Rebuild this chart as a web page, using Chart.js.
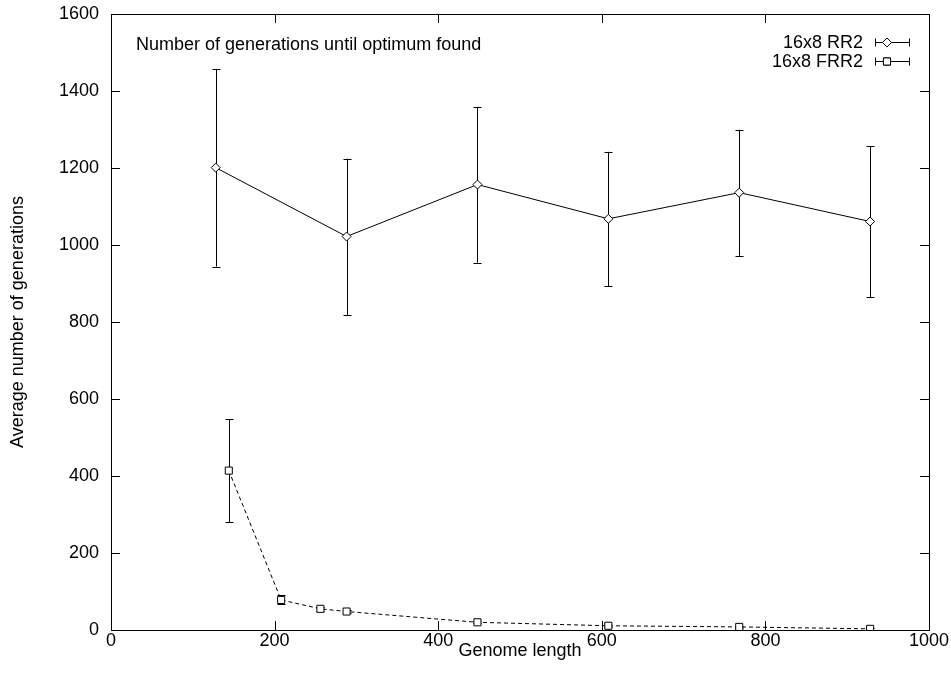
<!DOCTYPE html>
<html>
<head>
<meta charset="utf-8">
<script src="https://cdn.jsdelivr.net/npm/chart.js@4.4.0/dist/chart.umd.min.js"></script>
<style>
  body { margin: 0; background: #fff; }
  canvas { display: block; }
</style>
</head>
<body>
<canvas id="chart" width="951" height="679"></canvas>
<script>
// Data
const xTicks = [0, 200, 400, 600, 800, 1000];
const yTicks = [0, 200, 400, 600, 800, 1000, 1200, 1400, 1600];

const rr2Label = '16x8 RR2';
const rr2X = [128, 288, 448, 608, 768, 928];
const rr2Y = [1201, 1022, 1157, 1068, 1136, 1061];
const rr2Lo = [944, 818, 954, 893, 972, 865];
const rr2Hi = [1457, 1224, 1359, 1242, 1299, 1257];

const frr2Label = '16x8 FRR2';
const frr2X = [144, 208, 256, 288, 448, 608, 768, 928];
const frr2Y = [414, 78, 55, 48, 20, 11, 8, 3];
const frr2Lo = [280, 67, 50, 45, 18, 9, 6, 1];
const frr2Hi = [547, 90, 61, 52, 23, 14, 10, 5];

const titleText = 'Number of generations until optimum found';
const FONT = '"Liberation Sans", Arial, Helvetica, sans-serif';
const FSIZE = 18;

function toPoints(xs, ys) {
  return xs.map((x, i) => ({ x: x, y: ys[i] }));
}

// error bars, inward ticks, frame, in-plot title and legend
const gnuplotLook = {
  id: 'gnuplotLook',
  beforeDatasetsDraw(chart) {
    const ctx = chart.ctx;
    const xs = chart.scales.x, ys = chart.scales.y;
    const errs = [[rr2X, rr2Lo, rr2Hi], [frr2X, frr2Lo, frr2Hi]];
    ctx.save();
    ctx.strokeStyle = '#000';
    ctx.lineWidth = 1;
    errs.forEach(([xv, lo, hi]) => {
      xv.forEach((x, i) => {
        const px = Math.round(xs.getPixelForValue(x)) + 0.5;
        const p1 = ys.getPixelForValue(lo[i]);
        const p2 = ys.getPixelForValue(hi[i]);
        ctx.beginPath();
        ctx.moveTo(px, p1); ctx.lineTo(px, p2);
        ctx.moveTo(px - 4, Math.round(p1) + 0.5); ctx.lineTo(px + 4, Math.round(p1) + 0.5);
        ctx.moveTo(px - 4, Math.round(p2) + 0.5); ctx.lineTo(px + 4, Math.round(p2) + 0.5);
        ctx.stroke();
      });
    });
    ctx.restore();
  },
  afterDraw(chart) {
    const ctx = chart.ctx;
    const a = chart.chartArea;
    const xs = chart.scales.x, ys = chart.scales.y;
    ctx.save();
    ctx.strokeStyle = '#000';
    ctx.lineWidth = 1;
    // frame
    ctx.strokeRect(Math.round(a.left) + 0.5, Math.round(a.top) + 0.5,
      Math.round(a.right - a.left), Math.round(a.bottom - a.top));
    // inward ticks on all four sides
    const tl = 9;
    ctx.beginPath();
    xs.ticks.forEach(t => {
      const px = Math.round(xs.getPixelForValue(t.value)) + 0.5;
      ctx.moveTo(px, a.bottom); ctx.lineTo(px, a.bottom - tl);
      ctx.moveTo(px, a.top); ctx.lineTo(px, a.top + tl);
    });
    ys.ticks.forEach(t => {
      const py = Math.round(ys.getPixelForValue(t.value)) + 0.5;
      ctx.moveTo(a.left, py); ctx.lineTo(a.left + tl, py);
      ctx.moveTo(a.right, py); ctx.lineTo(a.right - tl, py);
    });
    ctx.stroke();

    // title inside plot
    ctx.fillStyle = '#000';
    ctx.font = FSIZE + 'px ' + FONT;
    ctx.textAlign = 'left';
    ctx.textBaseline = 'middle';
    ctx.fillText(titleText, a.left + 25, a.top + 31);

    // legend (top right)
    const rows = [
      { label: rr2Label, style: 'rectRot' },
      { label: frr2Label, style: 'rect' }
    ];
    rows.forEach((r, i) => {
      const cy = a.top + 28 + i * 19;
      ctx.textAlign = 'right';
      ctx.fillText(r.label, a.right - 66, cy + 1);
      const x0 = a.right - 54, x1 = a.right - 20;
      const py = Math.round(cy) + 0.5;
      ctx.beginPath();
      ctx.moveTo(x0, py); ctx.lineTo(x1, py);
      ctx.moveTo(Math.round(x0) + 0.5, py - 4); ctx.lineTo(Math.round(x0) + 0.5, py + 4);
      ctx.moveTo(Math.round(x1) + 0.5, py - 4); ctx.lineTo(Math.round(x1) + 0.5, py + 4);
      ctx.stroke();
      Chart.helpers.drawPoint(ctx, {
        pointStyle: r.style, radius: r.style === 'rect' ? 5 : 4.5, rotation: 0,
        borderWidth: 1
      }, a.right - 42, py);
      ctx.fillStyle = '#fff';
      ctx.fill();
      ctx.stroke();
      ctx.fillStyle = '#000';
    });
    ctx.restore();
  }
};

new Chart(document.getElementById('chart'), {
  type: 'scatter',
  data: {
    datasets: [
      {
        label: rr2Label,
        data: toPoints(rr2X, rr2Y),
        showLine: true,
        borderColor: '#000',
        borderWidth: 1,
        pointStyle: 'rectRot',
        pointRadius: 4.5,
        pointBackgroundColor: '#fff',
        pointBorderColor: '#000',
        pointBorderWidth: 1
      },
      {
        label: frr2Label,
        data: toPoints(frr2X, frr2Y),
        showLine: true,
        borderColor: '#000',
        borderWidth: 1,
        borderDash: [4, 3],
        pointStyle: 'rect',
        pointRadius: 5,
        pointBackgroundColor: '#fff',
        pointBorderColor: '#000',
        pointBorderWidth: 1
      }
    ]
  },
  options: {
    responsive: false,
    animation: false,
    events: [],
    layout: { padding: { top: 14, right: 22, left: 0, bottom: 0 } },
    plugins: { legend: { display: false }, tooltip: { enabled: false } },
    scales: {
      x: {
        type: 'linear',
        min: 0, max: 1000,
        afterBuildTicks: s => { s.ticks = xTicks.map(v => ({ value: v })); },
        afterFit: s => { s.height = 49; s.paddingLeft = 0; s.paddingRight = 0; },
        grid: { display: false, drawTicks: false },
        border: { display: false },
        ticks: { color: '#000', padding: 0, callback: v => String(v),
          font: { family: FONT, size: FSIZE } },
        title: {
          display: true, text: 'Genome length', color: '#000',
          padding: { top: 0, bottom: 17 },
          font: { family: FONT, size: FSIZE }
        }
      },
      y: {
        type: 'linear',
        min: 0, max: 1600,
        afterBuildTicks: s => { s.ticks = yTicks.map(v => ({ value: v })); },
        afterFit: s => { s.width = 111; s.paddingTop = 0; s.paddingBottom = 0; },
        grid: { display: false, drawTicks: false },
        border: { display: false },
        ticks: { color: '#000', padding: 12, callback: v => String(v),
          font: { family: FONT, size: FSIZE } },
        title: {
          display: true, text: 'Average number of generations', color: '#000',
          padding: { top: 7, bottom: 0 },
          font: { family: FONT, size: FSIZE }
        }
      }
    }
  },
  plugins: [gnuplotLook]
});
</script>
</body>
</html>
